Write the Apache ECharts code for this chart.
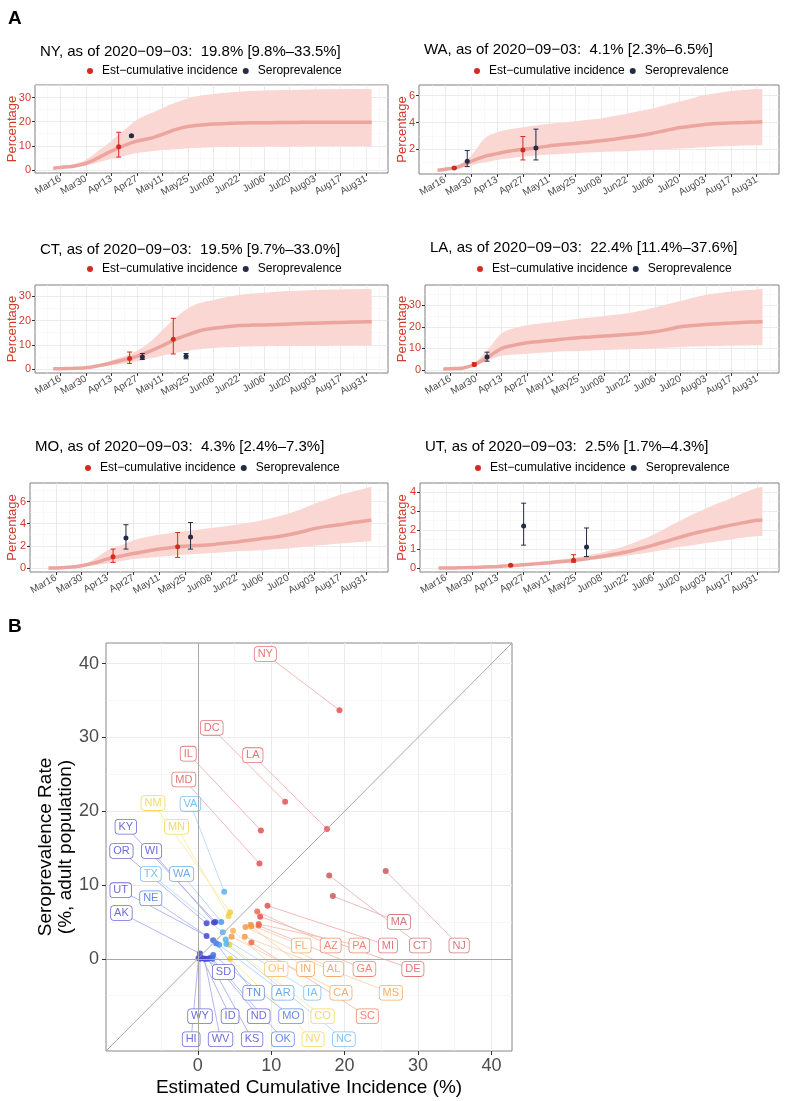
<!DOCTYPE html>
<html>
<head>
<meta charset="utf-8">
<script src="https://cdn.jsdelivr.net/npm/echarts@6/dist/echarts.min.js"></script>
<style>
  html, body { margin: 0; padding: 0; background: #fff; }
  #chart { width: 785px; height: 1101px; }
</style>
</head>
<body>
<div id="chart"></div>
<script>
// ---------- data: panel A (daily model, sampled weekly) ----------
const sampleDates = ['03-12','03-16','03-23','03-30','04-06','04-13','04-20','04-27','05-04','05-11','05-18','05-25','06-01','06-08','06-15','06-22','06-29','07-06','07-13','07-20','07-27','08-03','08-10','08-17','08-24','08-31','09-03'];

const nyMid  = [0.7,1.0,1.5,2.7,5.1,7.8,10.1,11.9,13.0,14.7,16.7,18.0,18.6,19.0,19.2,19.4,19.5,19.5,19.6,19.6,19.7,19.7,19.7,19.8,19.8,19.8,19.8];
const nyHigh = [0.9,1.3,2.3,4.2,8.0,12.0,16.5,20.8,23.3,25.6,27.8,29.7,30.8,31.5,32.0,32.4,32.7,32.9,33.0,33.1,33.2,33.3,33.4,33.4,33.5,33.5,33.5];
const nyLow  = [0.4,0.6,1.0,1.8,3.2,4.5,5.8,7.0,7.6,8.2,8.6,9.0,9.2,9.4,9.5,9.6,9.6,9.7,9.7,9.7,9.7,9.8,9.8,9.8,9.8,9.8,9.8];

const waMid  = [0.43,0.5,0.66,1.1,1.45,1.67,1.87,2.0,2.1,2.25,2.35,2.43,2.53,2.63,2.75,2.89,3.03,3.2,3.4,3.6,3.73,3.85,3.92,3.97,4.0,4.03,4.05];
const waHigh = [0.5,0.58,0.85,1.5,2.76,3.27,3.5,3.65,3.78,3.9,4.0,4.1,4.2,4.3,4.48,4.66,4.85,5.04,5.3,5.54,5.8,6.05,6.2,6.35,6.43,6.5,6.5];
const waLow  = [0.35,0.42,0.55,0.8,1.0,1.2,1.33,1.45,1.53,1.6,1.65,1.7,1.75,1.8,1.83,1.85,1.9,1.95,2.0,2.05,2.1,2.15,2.2,2.25,2.28,2.3,2.3];

const ctMid  = [0.1,0.15,0.3,0.5,1.4,2.5,3.8,5.2,7.3,9.6,12.1,14.1,15.9,16.8,17.4,17.9,18.1,18.2,18.4,18.6,18.8,18.9,19.1,19.2,19.4,19.5,19.5];
const ctHigh = [0.2,0.25,0.45,0.8,2.0,3.5,5.3,7.5,11.0,16.0,21.0,25.0,27.3,28.5,29.6,30.5,31.1,31.5,31.9,32.2,32.4,32.6,32.7,32.8,32.9,33.0,33.0];
const ctLow  = [0.0,0.05,0.15,0.3,0.9,1.5,2.3,3.2,4.3,5.5,6.6,7.5,8.2,8.7,9.0,9.2,9.3,9.4,9.5,9.5,9.6,9.6,9.6,9.7,9.7,9.7,9.7];

const laMid  = [0.4,0.5,0.8,2.8,6.2,10.0,11.5,12.6,13.2,13.8,14.4,14.9,15.3,15.7,16.1,16.5,17.0,17.7,18.8,20.0,20.6,21.1,21.5,21.8,22.1,22.3,22.4];
const laHigh = [0.5,0.7,1.2,4.0,10.0,17.0,19.5,20.8,21.6,22.3,23.0,23.8,24.4,25.0,25.7,26.5,27.6,29.0,30.5,32.0,33.6,35.0,35.8,36.5,37.0,37.4,37.6];
const laLow  = [0.3,0.4,0.6,2.0,4.5,6.5,7.1,7.5,7.9,8.3,8.6,8.8,9.0,9.2,9.4,9.6,9.8,10.0,10.3,10.6,10.8,11.0,11.1,11.2,11.3,11.4,11.4];

const moMid  = [0.0,0.0,0.05,0.2,0.45,0.8,1.05,1.3,1.5,1.7,1.85,1.95,2.03,2.1,2.22,2.35,2.5,2.65,2.8,3.0,3.25,3.55,3.75,3.9,4.1,4.25,4.3];
const moHigh = [0.0,0.02,0.1,0.3,0.8,1.6,2.0,2.5,2.8,3.0,3.15,3.3,3.45,3.6,3.75,3.9,4.1,4.3,4.6,4.9,5.3,5.8,6.2,6.6,6.9,7.2,7.3];
const moLow  = [0.0,0.0,0.02,0.1,0.25,0.4,0.6,0.8,0.9,1.0,1.1,1.2,1.28,1.35,1.42,1.5,1.55,1.6,1.68,1.75,1.88,2.0,2.1,2.2,2.3,2.38,2.4];

const utMid  = [0.0,0.0,0.01,0.02,0.05,0.08,0.12,0.17,0.22,0.28,0.34,0.4,0.5,0.6,0.72,0.85,1.02,1.2,1.4,1.6,1.8,1.95,2.1,2.25,2.38,2.5,2.52];
const utHigh = [0.0,0.01,0.02,0.04,0.08,0.12,0.17,0.22,0.3,0.38,0.46,0.55,0.67,0.8,0.98,1.2,1.45,1.75,2.1,2.45,2.8,3.1,3.4,3.65,3.95,4.2,4.25];
const utLow  = [0.0,0.0,0.0,0.01,0.03,0.05,0.09,0.13,0.16,0.2,0.26,0.32,0.4,0.48,0.56,0.65,0.75,0.85,0.98,1.1,1.2,1.3,1.4,1.5,1.6,1.67,1.68];

// survey points: [date, value, lower, upper]
const nyEst  = [['04-17', 9.6, 5.3, 15.6]];
const nySero = [['04-24', 14.1, 13.7, 14.5]];
const waEst  = [['03-21', 0.6, 0.56, 0.64], ['04-27', 1.95, 1.2, 2.95]];
const waSero = [['03-28', 1.1, 0.7, 1.9], ['05-04', 2.1, 1.2, 3.5]];
const ctEst  = [['04-23', 4.3, 2.3, 7.0], ['05-17', 12.3, 6.2, 20.9]];
const ctSero = [['04-30', 5.0, 3.9, 6.4], ['05-24', 5.3, 4.2, 6.4]];
const laEst  = [['03-29', 2.5, 1.8, 3.3]];
const laSero = [['04-05', 6.0, 4.0, 8.2]];
const moEst  = [['04-16', 1.0, 0.5, 1.7], ['05-21', 1.9, 0.95, 3.2]];
const moSero = [['04-23', 2.7, 1.7, 3.9], ['05-28', 2.8, 1.7, 4.1]];
const utEst  = [['04-20', 0.15, 0.12, 0.18], ['05-24', 0.4, 0.3, 0.7]];
const utSero = [['04-27', 2.2, 1.2, 3.4], ['05-31', 1.1, 0.6, 2.1]];

// ---------- data: panel B ----------
const states     = ['NY','DC','LA','IL','MD','NM','VA','KY','MN','OR','WI','TX','WA','UT','NE','AK','MA','CT','NJ','MI','DE','AZ','PA','GA','FL','IN','AL','OH','CA','MS','SC','CO','NV','SD','TN','AR','IA','NC','WY','ID','ND','MO','HI','WV','KS','OK'];
const incidence  = [19.3,11.9,17.6,8.6,8.4,4.4,3.6,2.4,4.2,1.2,2.2,3.4,3.2,1.2,2.1,0.3,18.4,17.9,25.6,9.5,8.5,8.1,8.3,8.3,7.2,7.3,6.5,4.8,4.6,6.4,7.3,4.3,4.4,1.1,2.5,2.9,3.8,3.9,0.3,0.6,1.7,2.1,0.1,0.9,1.4,2.0];
const seroprev   = [33.7,21.3,17.6,17.4,12.9,6.3,9.1,5.0,5.8,4.8,4.9,3.6,5.0,3.1,2.5,0.7,8.5,11.3,11.9,7.2,5.7,6.4,4.7,4.5,4.6,4.4,4.3,3.8,3.0,3.0,2.2,1.9,0.0,0.0,2.1,1.9,2.6,2.0,0.0,0.1,0.1,0.5,0.1,0.0,0.0,0.0];
// repelled label anchors (data units)
const labelX     = [9.2,1.9,7.5,-1.3,-1.9,-6.1,-1.0,-9.8,-2.9,-10.4,-6.3,-6.4,-2.2,-10.5,-6.4,-10.4,27.4,30.3,35.6,25.9,29.3,18.1,22.0,22.7,14.1,14.7,18.5,10.7,19.5,26.3,23.1,17.0,15.7,3.5,7.6,11.6,15.6,19.9,0.3,4.4,8.3,12.7,-0.9,3.1,7.4,11.6];
const labelY     = [41.3,31.3,27.6,27.8,24.3,21.1,21.0,17.9,17.9,14.6,14.6,11.5,11.5,9.3,8.2,6.2,5.0,1.8,1.8,1.8,-1.4,1.8,1.8,-1.4,1.8,-1.4,-1.4,-1.4,-4.6,-4.6,-7.8,-7.8,-10.9,-1.8,-4.6,-4.6,-4.6,-10.9,-7.8,-7.8,-7.8,-7.8,-10.9,-10.9,-10.9,-10.9];

// ---------- styles ----------
const FONT = '"Liberation Sans", Arial, sans-serif';
const RED_TXT = '#d03b2d';
const EST_COL = '#d42a20';
const SERO_COL = '#232b45';
const BAND_COL = '#fad7d3';
const LINE_COL = '#eca59e';
const EST_NAME = 'Est\u2212cumulative incidence';
const SERO_NAME = 'Seroprevalence';

const palette = {
  darkred: '#c85a5a', red: '#e05252', redorange: '#ea6a50', orange: '#f39a4a',
  lightorange: '#f7b55a', yellow: '#f2cf3e', lightblue: '#5ab0f0', skyblue: '#4a98ec',
  blue: '#3f6fe6', indigo: '#4848d0'
};
const stateTone = {
  NY:'red', DC:'red', LA:'red', IL:'red', MD:'red', NM:'yellow', VA:'lightblue', KY:'indigo', MN:'yellow',
  OR:'indigo', WI:'indigo', TX:'lightblue', WA:'skyblue', UT:'indigo', NE:'blue', AK:'indigo',
  MA:'darkred', CT:'darkred', NJ:'darkred', MI:'red', DE:'red', AZ:'redorange', PA:'redorange', GA:'redorange',
  FL:'orange', IN:'orange', AL:'orange', OH:'lightorange', CA:'orange', MS:'orange', SC:'redorange',
  CO:'yellow', NV:'yellow', SD:'indigo', TN:'blue', AR:'skyblue', IA:'lightblue', NC:'lightblue',
  WY:'indigo', ID:'indigo', ND:'indigo', MO:'blue', HI:'indigo', WV:'indigo', KS:'indigo', OK:'blue'
};
const colourOf = i => palette[stateTone[states[i]]];
function fade(hex, a) {
  const n = parseInt(hex.slice(1), 16);
  const m = v => Math.round(v * a + 255 * (1 - a));
  return 'rgb(' + m(n >> 16) + ',' + m((n >> 8) & 255) + ',' + m(n & 255) + ')';
}

// ---------- helpers ----------
const DAY0 = Date.UTC(2020, 2, 2);       // Mar 2 -> ticks every 14 days hit Mar16, Mar30 ...
const MONTHS = ['Jan','Feb','Mar','Apr','May','Jun','Jul','Aug','Sep','Oct','Nov','Dec'];
const toDay = s => { const p = s.split('-').map(Number); return (Date.UTC(2020, p[0] - 1, p[1]) - DAY0) / 86400000; };
const dayLabel = v => { const d = new Date(DAY0 + v * 86400000); return MONTHS[d.getUTCMonth()] + String(d.getUTCDate()).padStart(2, '0'); };
const dateTicks = [];
for (let d = 14; d <= 182; d += 14) dateTicks.push(d);

const panels = [
  { title: 'NY, as of 2020\u221209\u221203:  19.8% [9.8%\u201333.5%]', mid: nyMid, hi: nyHigh, lo: nyLow, est: nyEst, sero: nySero,
    box: [35, 85, 353, 88], y: [-1.3, 35.2, 10], legend: [82, 60], titleTop: 39, nameGap: 16 },
  { title: 'WA, as of 2020\u221209\u221203:  4.1% [2.3%\u20136.5%]', mid: waMid, hi: waHigh, lo: waLow, est: waEst, sero: waSero,
    box: [419, 85, 360, 89], y: [0.15, 6.8, 2], legend: [469, 60], titleTop: 37, nameGap: 10 },
  { title: 'CT, as of 2020\u221209\u221203:  19.5% [9.7%\u201333.0%]', mid: ctMid, hi: ctHigh, lo: ctLow, est: ctEst, sero: ctSero,
    box: [35, 285, 353, 88], y: [-1.65, 34.65, 10], legend: [82, 258], titleTop: 237, nameGap: 16 },
  { title: 'LA, as of 2020\u221209\u221203:  22.4% [11.4%\u201337.6%]', mid: laMid, hi: laHigh, lo: laLow, est: laEst, sero: laSero,
    box: [425, 285, 354, 88], y: [-1.5, 39.5, 10], legend: [472, 258], titleTop: 235, nameGap: 16 },
  { title: 'MO, as of 2020\u221209\u221203:  4.3% [2.4%\u20137.3%]', mid: moMid, hi: moHigh, lo: moLow, est: moEst, sero: moSero,
    box: [30, 483, 358, 89], y: [-0.37, 7.67, 2], legend: [80, 457], titleTop: 434, nameGap: 11 },
  { title: 'UT, as of 2020\u221209\u221203:  2.5% [1.7%\u20134.3%]', mid: utMid, hi: utHigh, lo: utLow, est: utEst, sero: utSero,
    box: [420, 483, 359, 89], y: [-0.21, 4.46, 1], legend: [470, 457], titleTop: 434, nameGap: 11 }
];

function errorBars(colour) {
  return function (params, api) {
    const x = api.value(0);
    const top = api.coord([x, api.value(3)]);
    const bot = api.coord([x, api.value(2)]);
    const cap = 2.5;
    const st = { stroke: colour, lineWidth: 1 };
    return { type: 'group', children: [
      { type: 'line', shape: { x1: top[0], y1: top[1], x2: bot[0], y2: bot[1] }, style: st },
      { type: 'line', shape: { x1: top[0] - cap, y1: top[1], x2: top[0] + cap, y2: top[1] }, style: st },
      { type: 'line', shape: { x1: bot[0] - cap, y1: bot[1], x2: bot[0] + cap, y2: bot[1] }, style: st }
    ]};
  };
}

// Catmull-Rom curve through pixel points, as bezier path commands
function spline(pts) {
  let d = '';
  for (let k = 0; k < pts.length - 1; k++) {
    const p0 = pts[Math.max(k - 1, 0)], p1 = pts[k], p2 = pts[k + 1], p3 = pts[Math.min(k + 2, pts.length - 1)];
    const c1x = p1[0] + (p2[0] - p0[0]) / 6, c1y = p1[1] + (p2[1] - p0[1]) / 6;
    const c2x = p2[0] - (p3[0] - p1[0]) / 6, c2y = p2[1] - (p3[1] - p1[1]) / 6;
    d += ' C' + c1x + ' ' + c1y + ' ' + c2x + ' ' + c2y + ' ' + p2[0] + ' ' + p2[1];
  }
  return d;
}
function bandShape(dayArr, lo, hi) {
  return function (params, api) {
    if (params.dataIndex !== 0) return null;
    const up = dayArr.map((d, k) => api.coord([d, hi[k]]));
    const dn = dayArr.map((d, k) => api.coord([d, lo[k]])).reverse();
    const path = 'M' + up[0][0] + ' ' + up[0][1] + spline(up) +
      ' L' + dn[0][0] + ' ' + dn[0][1] + spline(dn) + ' Z';
    return { type: 'path', shape: { pathData: path }, style: { fill: BAND_COL } };
  };
}

const grids = [], xAxes = [], yAxes = [], series = [], titles = [], legends = [];
const days = sampleDates.map(toDay);

titles.push({ text: 'A', left: 3, top: 4, textStyle: { fontSize: 19, fontWeight: 'bold', color: '#000', fontFamily: FONT } });
titles.push({ text: 'B', left: 3, top: 612, textStyle: { fontSize: 19, fontWeight: 'bold', color: '#000', fontFamily: FONT } });

panels.forEach((p, i) => {
  grids.push({ left: p.box[0], top: p.box[1], width: p.box[2], height: p.box[3], show: true, outerBoundsMode: 'none',
    borderColor: '#7f7f7f', borderWidth: 1, backgroundColor: 'transparent' });
  xAxes.push({
    type: 'value', gridIndex: i, min: 0, max: 194, interval: 14,
    axisLine: { show: false, onZero: false },
    axisTick: { show: true, length: 3, customValues: dateTicks, lineStyle: { color: '#333' } },
    axisLabel: { customValues: dateTicks, rotate: 30, fontSize: 10, color: '#4d4d4d', margin: 5, fontFamily: FONT,
      formatter: v => (v % 14 === 0 && v >= 14 && v <= 182) ? dayLabel(v) : '' },
    splitLine: { show: true, lineStyle: { color: '#e6e6e6', width: 0.8 } },
    minorTick: { show: false, splitNumber: 2 },
    minorSplitLine: { show: true, lineStyle: { color: '#f3f3f3', width: 0.5 } }
  });
  const yTicks = [];
  for (let v = 0; v <= p.y[1]; v += p.y[2]) if (v >= p.y[0]) yTicks.push(v);
  yAxes.push({
    type: 'value', gridIndex: i, min: p.y[0], max: p.y[1], minInterval: p.y[2], maxInterval: p.y[2],
    name: 'Percentage', nameLocation: 'middle', nameGap: p.nameGap, nameMoveOverlap: false,
    nameTextStyle: { color: RED_TXT, fontSize: 13, fontFamily: FONT },
    axisLine: { show: false, onZero: false },
    axisTick: { show: true, length: 3, customValues: yTicks, lineStyle: { color: '#333' } },
    axisLabel: { customValues: yTicks, color: RED_TXT, fontSize: 11, margin: 4, fontFamily: FONT,
      formatter: v => (yTicks.indexOf(v) >= 0 ? String(v) : '') },
    splitLine: { show: true, lineStyle: { color: '#e6e6e6', width: 0.8 } },
    minorTick: { show: false, splitNumber: 2 },
    minorSplitLine: { show: true, lineStyle: { color: '#f3f3f3', width: 0.5 } }
  });
  titles.push({ text: p.title, left: p.box[0], top: p.titleTop,
    textStyle: { fontSize: 15, fontWeight: 'normal', color: '#000', fontFamily: FONT } });
  legends.push({ data: [EST_NAME, SERO_NAME], left: p.legend[0], top: p.legend[1], icon: 'circle',
    itemWidth: 14, itemHeight: 6, itemGap: 5, selectedMode: false,
    textStyle: { fontSize: 12, color: '#000', fontFamily: FONT } });

  const ax = { xAxisIndex: i, yAxisIndex: i };
  series.push(Object.assign({ type: 'custom', name: 'band', data: days.map((d, k) => [d, p.lo[k], p.hi[k]]),
    encode: { x: 0, y: [1, 2] }, renderItem: bandShape(days, p.lo, p.hi), silent: true, z: 1 }, ax));
  series.push(Object.assign({ type: 'line', data: days.map((d, k) => [d, p.mid[k]]),
    symbol: 'none', smooth: 0.3, lineStyle: { color: LINE_COL, width: 3.5 }, silent: true, z: 2 }, ax));
  series.push(Object.assign({ type: 'custom', name: 'estErr', data: p.est.map(r => [toDay(r[0]), r[1], r[2], r[3]]),
    encode: { x: 0, y: [1, 2, 3] }, renderItem: errorBars(EST_COL), silent: true, z: 3 }, ax));
  series.push(Object.assign({ type: 'custom', name: 'seroErr', data: p.sero.map(r => [toDay(r[0]), r[1], r[2], r[3]]),
    encode: { x: 0, y: [1, 2, 3] }, renderItem: errorBars(SERO_COL), silent: true, z: 3 }, ax));
  series.push(Object.assign({ type: 'scatter', name: EST_NAME, data: p.est.map(r => [toDay(r[0]), r[1]]),
    symbolSize: 5, itemStyle: { color: EST_COL, opacity: 1 }, z: 4 }, ax));
  series.push(Object.assign({ type: 'scatter', name: SERO_NAME, data: p.sero.map(r => [toDay(r[0]), r[1]]),
    symbolSize: 5, itemStyle: { color: SERO_COL, opacity: 1 }, z: 4 }, ax));
});

// ---------- panel B ----------
const B = panels.length;
const bTicks = [0, 10, 20, 30, 40];
grids.push({ left: 106, top: 643, width: 406, height: 408, show: true, outerBoundsMode: 'none',
  borderColor: '#888', borderWidth: 1, backgroundColor: 'transparent' });
const bAxis = (name, gap, margin) => ({
  type: 'value', gridIndex: B, min: -12.5, max: 42.8, minInterval: 10, maxInterval: 10,
  name: name, nameLocation: 'middle', nameGap: gap, nameMoveOverlap: false,
  nameTextStyle: { fontSize: 19, color: '#000', fontFamily: FONT, lineHeight: 20 },
  axisLine: { show: false, onZero: false },
  axisTick: { show: true, length: 4, customValues: bTicks, lineStyle: { color: '#333' } },
  axisLabel: { customValues: bTicks, fontSize: 18, color: '#4d4d4d', margin: margin, fontFamily: FONT,
    formatter: v => (bTicks.indexOf(v) >= 0 ? String(v) : '') },
  splitLine: { show: true, lineStyle: { color: '#ebebeb', width: 1 } },
  minorTick: { show: false, splitNumber: 2 },
  minorSplitLine: { show: true, lineStyle: { color: '#f2f2f2', width: 0.6 } }
});
xAxes.push(bAxis('Estimated Cumulative Incidence (%)', 27, 6));
yAxes.push(bAxis('Seroprevalence Rate\n(%, adult population)', 30, 7));

const bAx = { xAxisIndex: B, yAxisIndex: B };
series.push(Object.assign({ type: 'line', data: [], silent: true, z: 1,
  markLine: { symbol: 'none', silent: true, label: { show: false },
    lineStyle: { color: '#a8a8a8', width: 1, type: 'solid' },
    data: [{ xAxis: 0 }, { yAxis: 0 }, [{ coord: [-12.5, -12.5] }, { coord: [42.8, 42.8] }]] } }, bAx));
series.push(Object.assign({ type: 'custom', silent: true, z: 2,
  data: states.map((s, k) => [labelX[k], labelY[k], incidence[k], seroprev[k]]),
  encode: { x: [0, 2], y: [1, 3] },
  renderItem: (params, api) => {
    const a = api.coord([api.value(0), api.value(1)]);
    const b = api.coord([api.value(2), api.value(3)]);
    return { type: 'line', shape: { x1: a[0], y1: a[1], x2: b[0], y2: b[1] },
      style: { stroke: fade(colourOf(params.dataIndex), 0.45), lineWidth: 0.9 } };
  } }, bAx));
series.push(Object.assign({ type: 'scatter', z: 3, symbolSize: 6,
  data: states.map((s, k) => [incidence[k], seroprev[k]]),
  itemStyle: { color: p => colourOf(p.dataIndex), opacity: 0.85 } }, bAx));
series.push(Object.assign({ type: 'custom', silent: true, z: 4,
  data: states.map((s, k) => [labelX[k], labelY[k]]),
  encode: { x: 0, y: 1 },
  renderItem: (params, api) => {
    const a = api.coord([api.value(0), api.value(1)]);
    const c = fade(colourOf(params.dataIndex), 0.8);
    return { type: 'text', x: a[0], y: a[1],
      style: { text: states[params.dataIndex], fill: c, align: 'center', verticalAlign: 'middle',
        fontSize: 11, fontFamily: FONT, backgroundColor: '#fff', borderColor: c, borderWidth: 0.8,
        borderRadius: 3, padding: [2, 3, 1, 3] } };
  } }, bAx));

const chart = echarts.init(document.getElementById('chart'), null, { renderer: 'canvas' });
chart.setOption({
  animation: false,
  backgroundColor: '#fff',
  textStyle: { fontFamily: FONT },
  title: titles,
  legend: legends,
  grid: grids,
  xAxis: xAxes,
  yAxis: yAxes,
  series: series
});
</script>
</body>
</html>
